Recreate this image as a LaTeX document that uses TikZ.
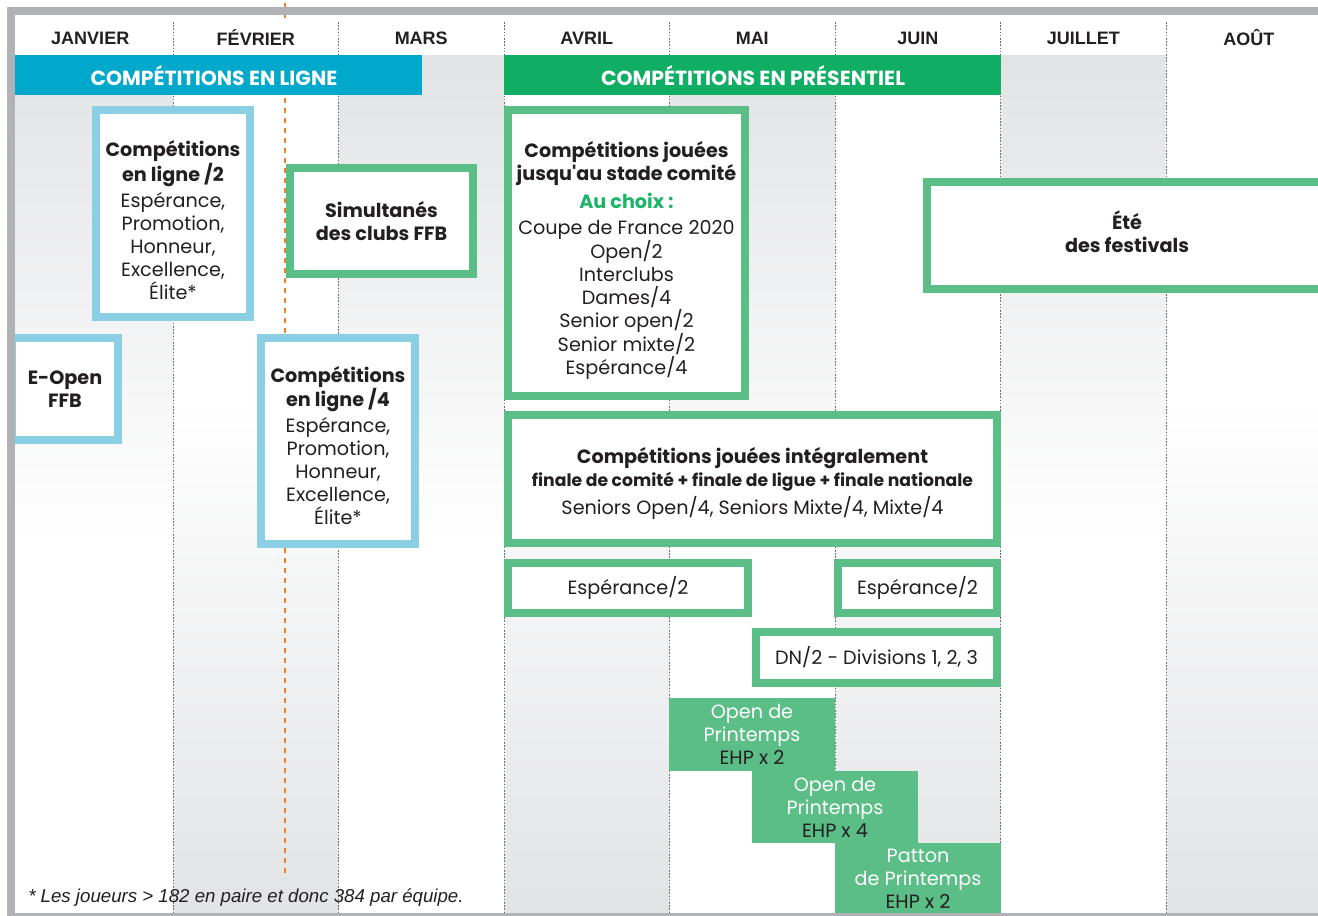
\documentclass[tikz,border=0pt]{standalone}
\usepackage{fontspec}
\setmainfont{Poppins}
\newfontfamily\plainpop{Poppins}
\newfontfamily\monthfont{Liberation Sans}
\newfontfamily\notefont{Liberation Sans}
\usetikzlibrary{positioning}
\definecolor{framegray}{HTML}{B1B2B6}
\definecolor{colgray}{HTML}{E2E3E5}
\definecolor{bandblue}{HTML}{00A8CC}
\definecolor{bandgreen}{HTML}{0FAE64}
\definecolor{lblue}{HTML}{8ACFE3}
\definecolor{gfill}{HTML}{5ABE86}
\definecolor{choix}{HTML}{1EB467}
\definecolor{txt}{HTML}{231F20}
\definecolor{orangeline}{HTML}{EE7F2F}
\definecolor{divgray}{HTML}{707070}
\tikzset{
  bx/.style n args={2}{minimum width={(#1-8)*0.75pt}, minimum height={(#2-8)*0.75pt}, inner sep=0pt, line width=6pt, fill=white, align=center, text=txt, font=\boxfont},
  bluebx/.style={draw=lblue},
  greenbx/.style={draw=gfill},
  boxtxt/.style={inner sep=0pt, align=center, text=txt, font=\boxfont},
  fillbx/.style n args={2}{minimum width={#1*0.75pt}, minimum height={#2*0.75pt}, inner sep=0pt, fill=gfill, align=center, text=txt, font=\boxfont},
  divider/.style={draw=divgray, line width=0.6pt, dash pattern=on 1.2pt off 1.2pt},
  monthlbl/.style={font=\monthfont\bfseries\fontsize{13.5}{16}\selectfont, text=txt},
  bandlbl/.style={font=\bfseries\fontsize{15.3}{18}\selectfont, text=white},
}
\newcommand{\boxfont}{\fontsize{14.4}{17.25}\selectfont}
\begin{document}
\begin{tikzpicture}[x=0.75pt,y=-0.75pt]
\useasboundingbox (0,0) rectangle (1318,915);
\fill[white] (0,0) rectangle (1318,915);
% column shading: odd columns grey on top, even columns grey at bottom
\foreach \xa/\xb in {7.5/173, 338.5/504, 669.5/835, 1000.5/1166}{
  \shade[top color=colgray, bottom color=white] (\xa,55) rectangle (\xb,545);
}
\foreach \xa/\xb in {173/338.5, 504/669.5, 835/1000.5, 1166/1331.5}{
  \shade[top color=white, bottom color=colgray] (\xa,400) rectangle (\xb,915);
}
\fill[white] (7.5,15) rectangle (1331.5,55);
% dividers
\foreach \x in {173, 338.5, 504, 669.5, 835, 1000.5, 1166}{
  \draw[divider] (\x,22) -- (\x,913);
}
% orange dashed line
\draw[orangeline, line width=1.1pt, dash pattern=on 4pt off 3.5pt] (285,3) -- (285,22);
\draw[orangeline, line width=1.1pt, dash pattern=on 4pt off 3.5pt] (285,98) -- (285,878);
% bands
\fill[bandblue] (15,55) rectangle (422,95);
\fill[bandgreen] (504,55) rectangle (1000.5,95);
\node[bandlbl] (bandonline) at (214,75.5) {COMPÉTITIONS EN LIGNE};
\node[bandlbl] (bandlive) at (753,75.5) {COMPÉTITIONS EN PRÉSENTIEL};
% boxes
\node[bx={162}{215}, bluebx] (cl2) at (173,213.5) {};
\node[boxtxt] (cl2t) at (173,220) {\textbf{Compétitions}\\\textbf{en ligne /2}\\[2pt]Espérance,\\Promotion,\\Honneur,\\Excellence,\\Élite*};
\node[bx={114}{110}, bluebx] (eopen) at (65,389) {\textbf{E-Open}\\\textbf{FFB}};
\node[bx={191}{114}, greenbx] (simult) at (381.5,221) {\textbf{Simultanés}\\\textbf{des clubs FFB}};
\node[bx={162}{214}, bluebx] (cl4) at (338,441) {};
\node[boxtxt] (cl4t) at (338,445.5) {\textbf{Compétitions}\\\textbf{en ligne /4}\\[2pt]Espérance,\\Promotion,\\Honneur,\\Excellence,\\Élite*};
\node[bx={245}{294}, greenbx] (comite) at (626.5,253) {};
\node[boxtxt] (comitet) at (626.5,260.5) {\textbf{Compétitions jouées}\\\textbf{jusqu{\plainpop\bfseries'}au stade comité}\\[4pt]\textcolor{choix}{\textbf{Au choix :}}\\[2pt]Coupe de France 2020\\Open/2\\Interclubs\\Dames/4\\Senior open/2\\Senior mixte/2\\Espérance/4};
\node[bx={497}{136}, greenbx] (integ) at (752.5,479) {};
\node[boxtxt] (integt) at (752.5,483.5) {\textbf{Compétitions jouées intégralement}\\{\fontsize{12.9}{15}\selectfont\textbf{finale de comité + finale de ligue + finale nationale}}\\[3.5pt]Seniors Open/4, Seniors Mixte/4, Mixte/4};
\node[bx={408}{115}, greenbx] (ete) at (1127,235.5) {};
\node[boxtxt] (etet) at (1127,232) {\textbf{Été}\\\textbf{des festivals}};
\node[bx={248}{58}, greenbx] (espa) at (628,588) {Espérance/2};
\node[bx={167}{58}, greenbx] (espb) at (917.5,588) {Espérance/2};
\node[bx={249}{59}, greenbx] (dn) at (876.5,657.5) {DN/2 - Divisions 1, 2, 3};
\node[fillbx={166}{73}] (opena) at (752,734.5) {\textcolor{white}{Open de}\\\textcolor{white}{Printemps}\\EHP x 2};
\node[fillbx={166}{72}] (openb) at (835,807) {\textcolor{white}{Open de}\\\textcolor{white}{Printemps}\\EHP x 4};
\node[fillbx={166}{72}] (patton) at (918,879) {\textcolor{white}{Patton}\\\textcolor{white}{de Printemps}\\EHP x 2};
% frame
\draw[framegray, line width=6pt] (11,11) rectangle (1345,917);
% months
\foreach \n/\x/\t in {jan/90.25/JANVIER, feb/255.75/FÉVRIER, mar/421.25/MARS, apr/586.75/AVRIL, may/752.25/MAI, jun/917.75/JUIN, jul/1083.25/JUILLET, aug/1248.75/AOÛT}{
  \node[monthlbl] (m\n) at (\x,38) {\t};
}
% footnote
\node[anchor=west, inner sep=0pt, text=txt, font=\notefont\itshape\fontsize{14}{16}\selectfont] (note) at (28,898) {* Les joueurs > 182 en paire et donc 384 par équipe.};
\end{tikzpicture}
\end{document}
